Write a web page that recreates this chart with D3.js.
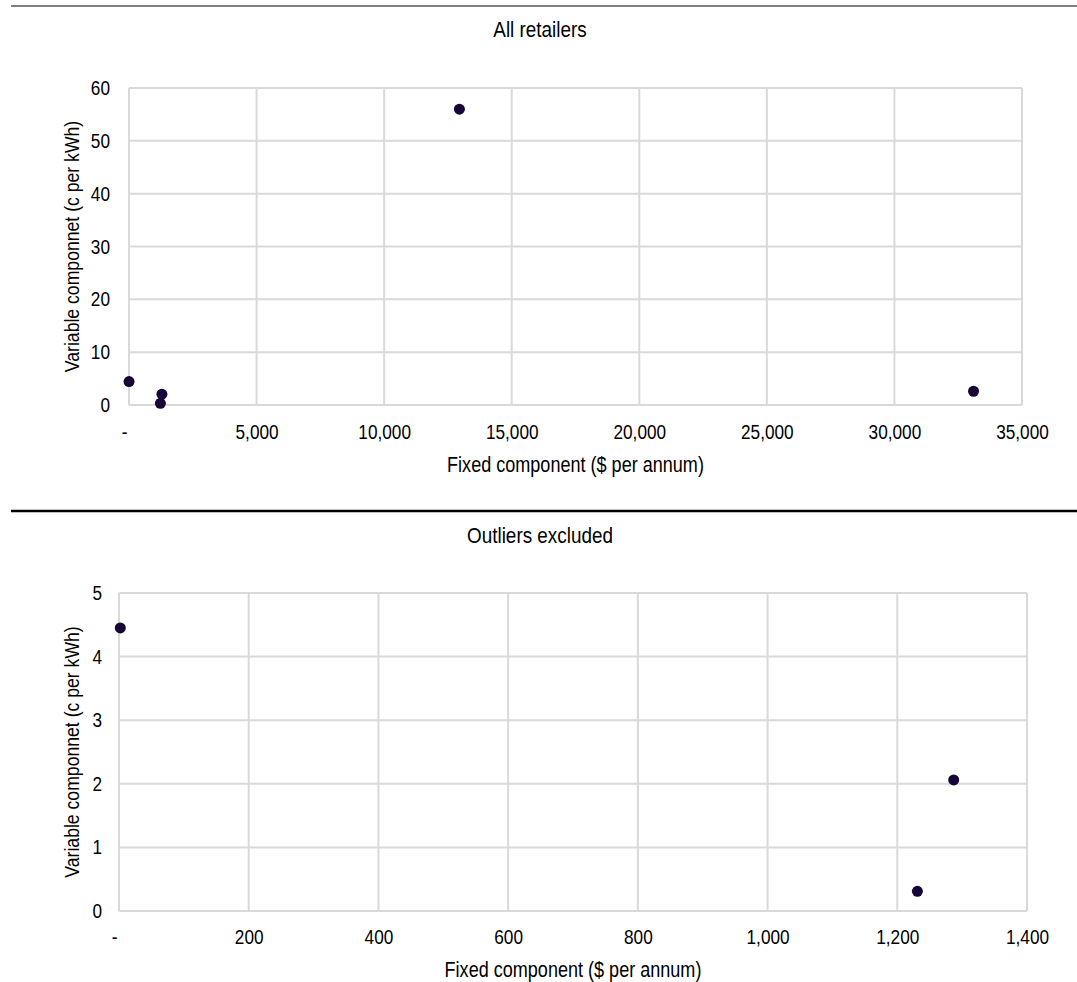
<!DOCTYPE html>
<html>
<head>
<meta charset="utf-8">
<script src="https://cdn.jsdelivr.net/npm/d3@7"></script>
<style>
  body { margin: 0; background: #fff; }
  text { font-family: "Liberation Sans", Arial, sans-serif; fill: #000; }
</style>
</head>
<body>
<svg id="container" width="1077" height="982"></svg>
<script>
// data
let allFixed = [2, 1230, 1290, 12950, 33100]
let allVariable = [4.43, 0.31, 2.05, 56.0, 2.6]
let exclFixed = [2, 1231, 1287]
let exclVariable = [4.45, 0.31, 2.06]

let allXTicks = [0, 5000, 10000, 15000, 20000, 25000, 30000, 35000]
let allYTicks = [0, 10, 20, 30, 40, 50, 60]
let exclXTicks = [0, 200, 400, 600, 800, 1000, 1200, 1400]
let exclYTicks = [0, 1, 2, 3, 4, 5]

let titles = ["All retailers", "Outliers excluded"]
let xTitle = "Fixed component ($ per annum)"
let yTitle = "Variable componnet (c per kWh)"

// the original uses a narrow face; squeeze Liberation Sans to fake it
let narrow = 0.84
let svg = d3.select("#container")
// accounting style: zero shows as a dash with trailing padding
let fmt = d => d === 0 ? "-\u00a0\u00a0" : d3.format(",")(d)

// separator lines
svg.append("line").attr("x1", 11).attr("x2", 1077).attr("y1", 6).attr("y2", 6)
    .style("stroke", "#555").style("stroke-width", 1.5)
svg.append("line").attr("x1", 11).attr("x2", 1077).attr("y1", 511).attr("y2", 511)
    .style("stroke", "#000").style("stroke-width", 2.5)

function drawPanel(p) {
    let g = svg.append("g")
    let x = d3.scaleLinear().domain(p.xDomain).range([p.left, p.right])
    let y = d3.scaleLinear().domain(p.yDomain).range([p.bottom, p.top])

    // gridlines
    g.selectAll(".vgrid").data(p.xTicks).enter().append("line")
        .attr("x1", d => x(d)).attr("x2", d => x(d))
        .attr("y1", p.top).attr("y2", p.bottom)
        .style("stroke", "#d9d9d9").style("stroke-width", 2)
    g.selectAll(".hgrid").data(p.yTicks).enter().append("line")
        .attr("x1", p.left).attr("x2", p.right)
        .attr("y1", d => y(d)).attr("y2", d => y(d))
        .style("stroke", "#d9d9d9").style("stroke-width", 2)

    // axes (labels only)
    let xAxis = d3.axisBottom(x).tickValues(p.xTicks).tickFormat(fmt).tickSize(0).tickPadding(p.xPad)
    let xg = g.append("g").attr("transform", `translate(0,${p.bottom})`).call(xAxis)
    let yAxis = d3.axisLeft(y).tickValues(p.yTicks).tickFormat(d3.format("d")).tickSize(0).tickPadding(p.yPad)
    let yg = g.append("g").attr("transform", `translate(${p.left},0)`).call(yAxis)
    xg.select(".domain").remove()
    yg.select(".domain").remove()
    g.selectAll(".tick text").style("font-size", "20.5px")
        .style("font-family", "'Liberation Sans', Arial, sans-serif").attr("fill", "#000")
        .style("white-space", "pre")
        .attr("transform", `scale(${narrow},1)`)
    yg.selectAll(".tick text").attr("x", -p.yPad / narrow)

    // points
    g.selectAll("circle").data(p.xs).enter().append("circle")
        .attr("cx", d => x(d))
        .attr("cy", (d, i) => y(p.ys[i]))
        .attr("r", 5.5)
        .style("fill", "#160536")

    // titles
    g.append("text").attr("transform", `translate(540,${p.titleY}) scale(${narrow},1)`)
        .attr("text-anchor", "middle").style("font-size", "22.5px").text(p.title)
    g.append("text").attr("transform", `translate(${(p.left + p.right) / 2},${p.xTitleY}) scale(${narrow},1)`)
        .attr("text-anchor", "middle").style("font-size", "21.5px").text(xTitle)
    g.append("text")
        .attr("transform", `translate(79,${(p.top + p.bottom) / 2}) rotate(-90) scale(${narrow},1)`)
        .attr("text-anchor", "middle").style("font-size", "21px").text(yTitle)
}

drawPanel({
    title: titles[0], titleY: 37,
    xs: allFixed, ys: allVariable,
    xDomain: [0, 35000], yDomain: [0, 60],
    xTicks: allXTicks, yTicks: allYTicks,
    left: 129, right: 1022, top: 88, bottom: 405,
    xPad: 19, yPad: 19, xTitleY: 472
})

drawPanel({
    title: titles[1], titleY: 543,
    xs: exclFixed, ys: exclVariable,
    xDomain: [0, 1400], yDomain: [0, 5],
    xTicks: exclXTicks, yTicks: exclYTicks,
    left: 119, right: 1027, top: 593, bottom: 911,
    xPad: 18, yPad: 17, xTitleY: 977
})
</script>
</body>
</html>
